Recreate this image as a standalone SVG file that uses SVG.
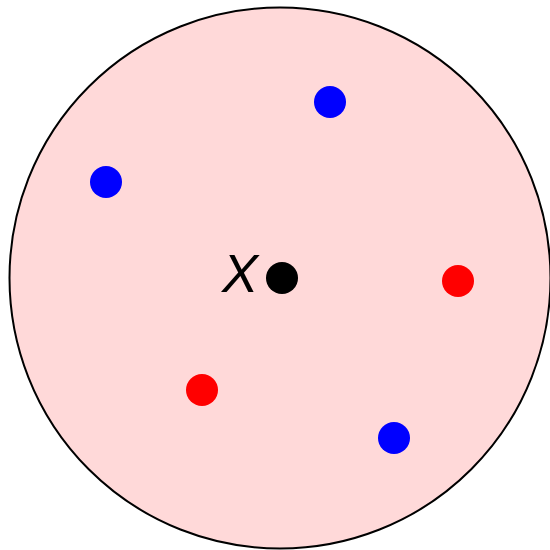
<svg xmlns="http://www.w3.org/2000/svg" width="550" height="550" viewBox="0 0 550 550">
<style>
.blue{fill:#0000ff}
.red{fill:#ff0000}
.blk{fill:#000000}
.lbl{font-family:"Liberation Sans",Arial,sans-serif;font-style:italic;font-size:54px;fill:#000}
</style>
<rect width="550" height="550" fill="#ffffff"/>
<g id="region"><circle cx="280" cy="278" r="270.5" fill="#ffd9d9" stroke="#000" stroke-width="2"/></g>
<g id="x"><circle class="blk" cx="282" cy="278" r="16"/><text class="lbl" x="222" y="292">X</text></g>
<g id="b1"><circle class="blue" cx="330" cy="102" r="16"/></g>
<g id="b2"><circle class="blue" cx="106" cy="182" r="16"/></g>
<g id="b3"><circle class="blue" cx="394" cy="438" r="16"/></g>
<g id="r1"><circle class="red" cx="458" cy="281" r="16"/></g>
<g id="r2"><circle class="red" cx="202" cy="390" r="16"/></g>
<g id="connectors"></g>
</svg>
